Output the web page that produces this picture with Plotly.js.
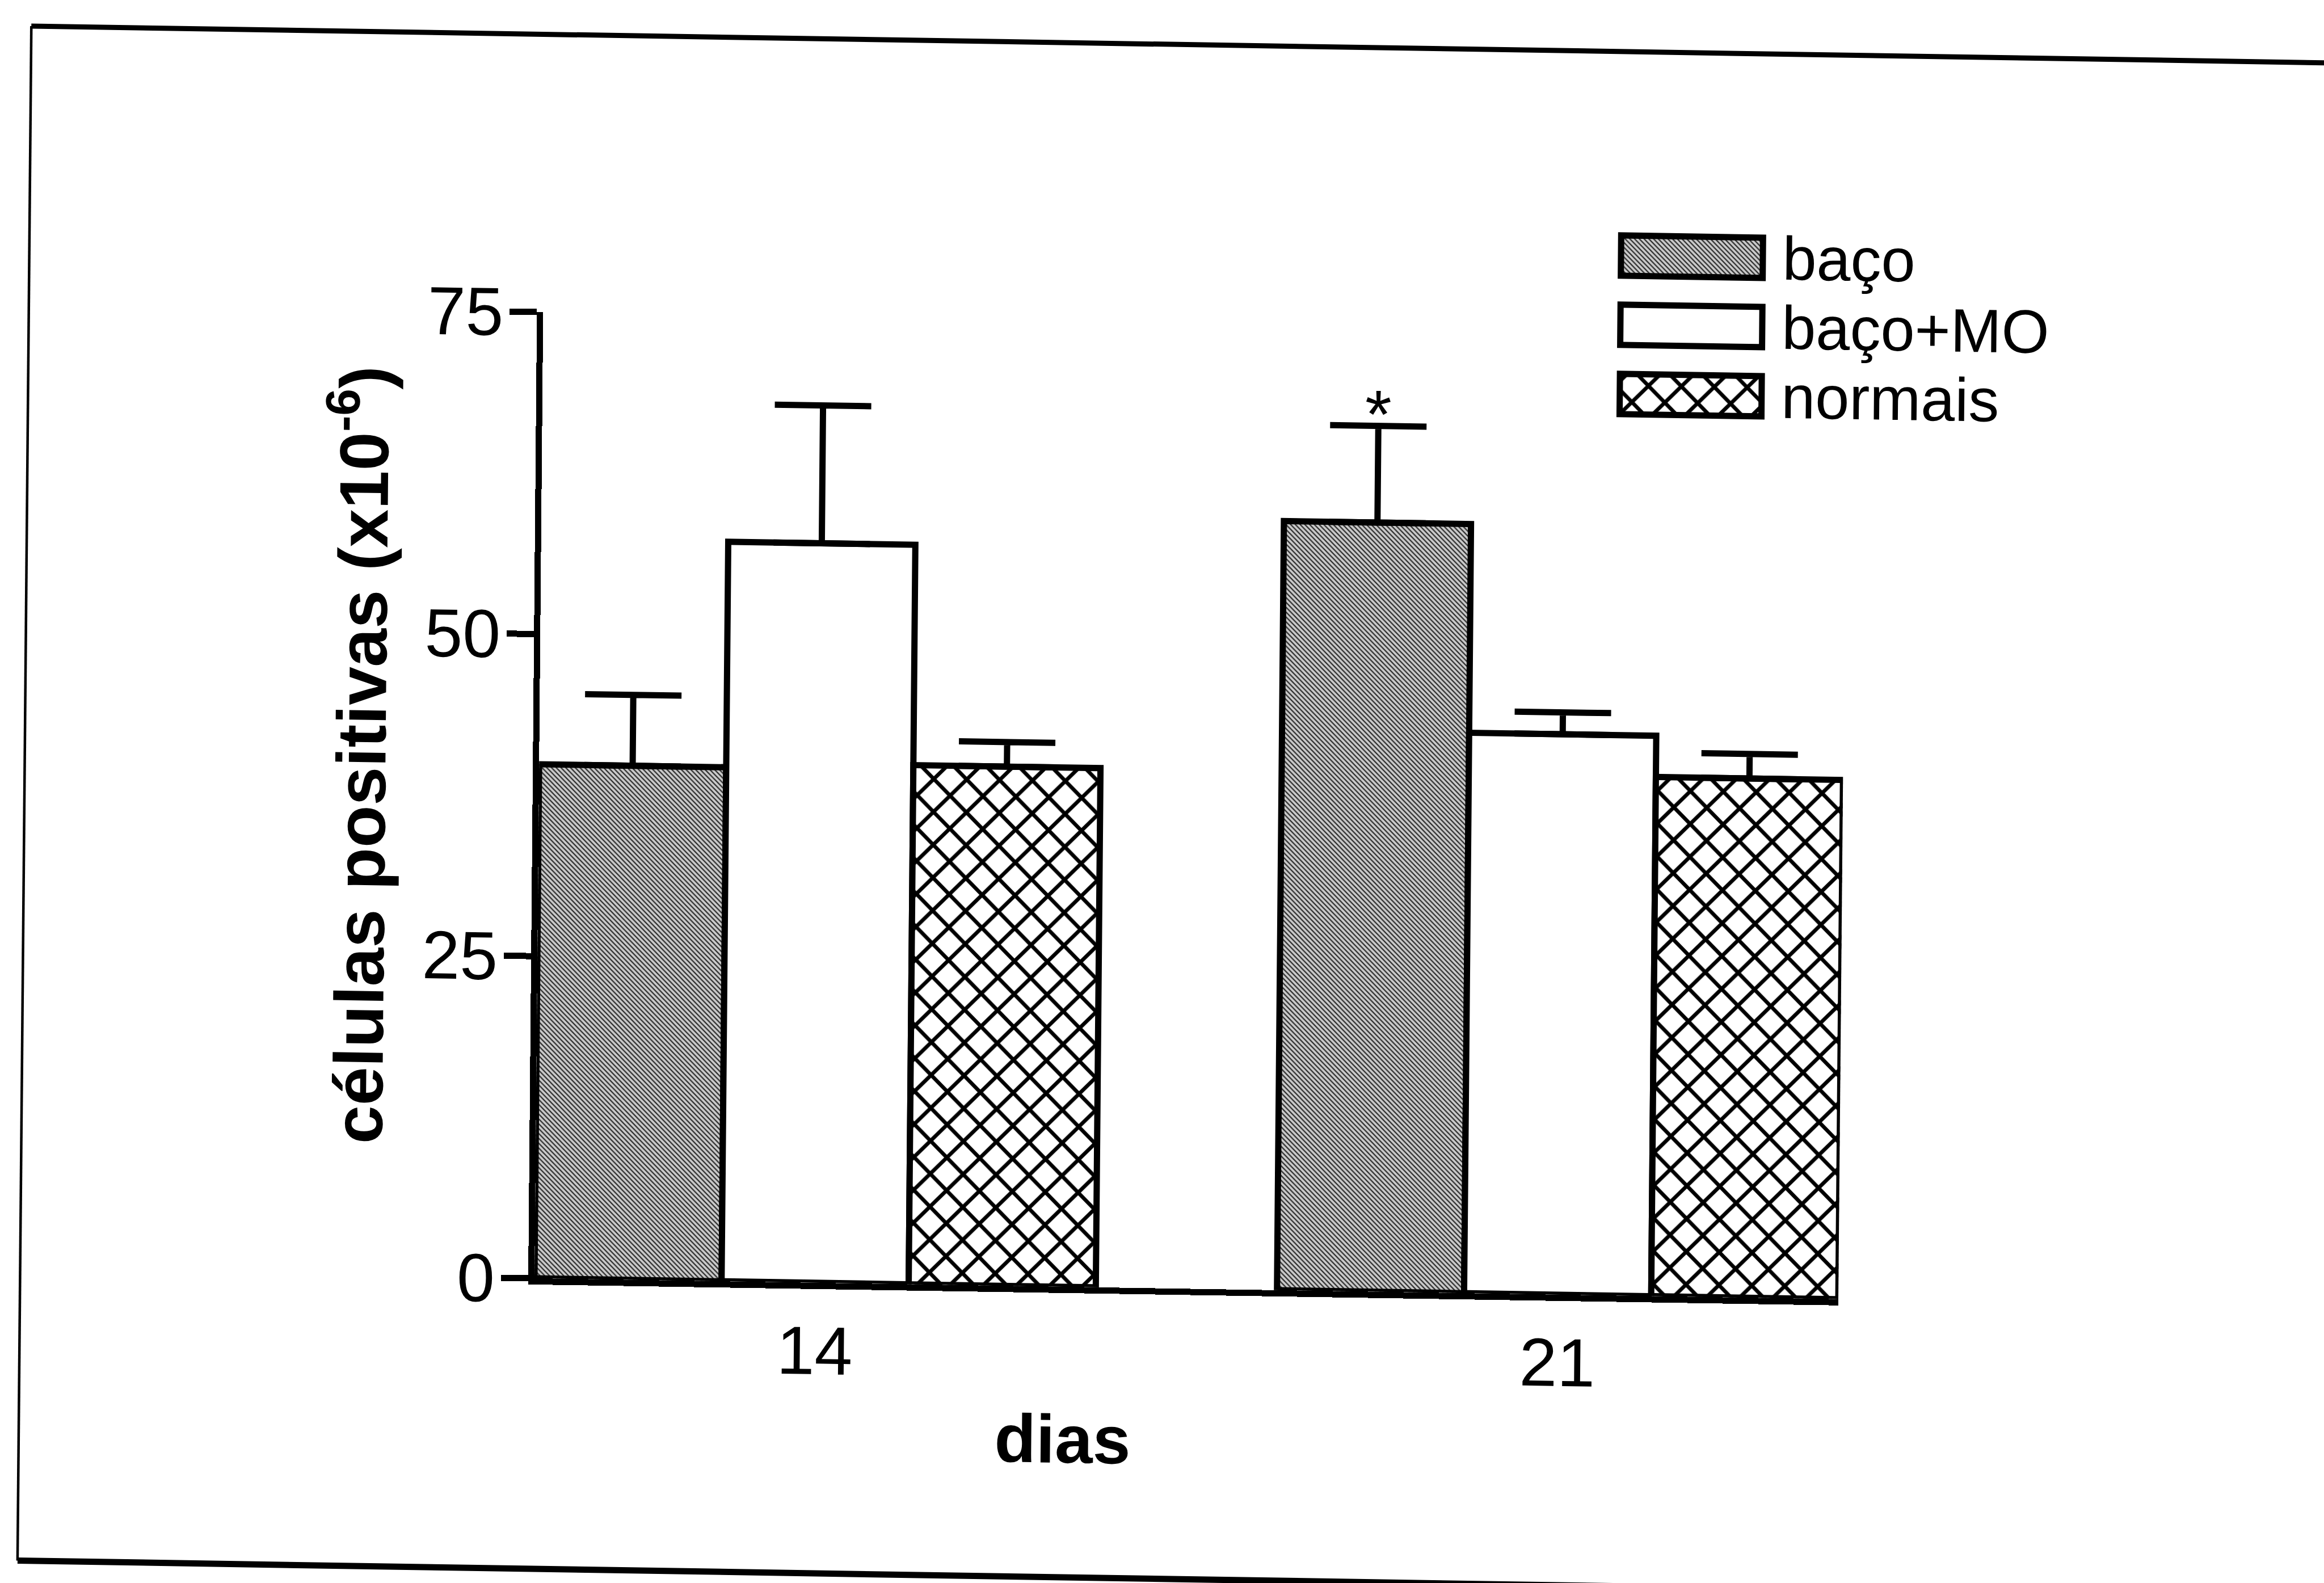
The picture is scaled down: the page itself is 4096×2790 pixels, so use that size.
<!DOCTYPE html>
<html>
<head>
<meta charset="utf-8">
<script src="https://cdn.plot.ly/plotly-3.0.1.min.js"></script>
<style>
  html, body { margin: 0; padding: 0; background: #ffffff; overflow: hidden; }
  /* the printed page sits slightly askew; the skew pivots on the axis origin */
  #chart {
    width: 4096px; height: 2790px;
    transform-origin: 942px 2253px;
    transform: matrix(1, 0.016, -0.009, 1, 0, 0);
  }
</style>
</head>
<body>
<div id="chart"></div>
<script>
// Positive cells (x10^-6) per group, mean and SEM, at 14 and 21 days
const dias = ['14', '21'];
const baco = [39.9, 59.7];
const bacoSem = [5.5, 7.5];
const bacoMO = [57.4, 43.5];
const bacoMOSem = [10.7, 1.7];
const normais = [40.3, 40.3];
const normaisSem = [1.9, 1.9];
const seriesNames = ['baço', 'baço+MO', 'normais'];
const bacoSignificant = [false, true];   // marked with *
const yTickVals = [0, 25, 50, 75];

// ---- page geometry (px) ----
const PAGE_W = 4096, PAGE_H = 2790;
const L = 942, R = 856, T = 300, B = 537;
const W = PAGE_W - L - R;
const H = PAGE_H - T - B;
const px = x => (x - L) / W;
const py = y => (PAGE_H - B - y) / H;

const FONT = 'Liberation Sans, Arial, Helvetica, sans-serif';
const BARGAP = 0.244;
const LINE_W = 11;

// fills for each series
const fills = {
  'baço':    { color: '#9c9c9c', pattern: { shape: '\\', fgcolor: '#2e2e2e', bgcolor: '#cccccc', size: 6, solidity: 0.38 } },
  'baço+MO': { color: '#ffffff', pattern: { shape: '' } },
  'normais': { color: '#ffffff', pattern: { shape: 'x', fgcolor: '#000000', bgcolor: '#ffffff', size: 41, solidity: 0.3 } }
};

const means = [baco, bacoMO, normais];
const sems = [bacoSem, bacoMOSem, normaisSem];

const traces = seriesNames.map((name, i) => ({
  type: 'bar',
  name: name,
  x: dias,
  y: means[i],
  xaxis: 'x',
  yaxis: 'y',
  marker: {
    color: fills[name].color,
    pattern: fills[name].pattern,
    line: { color: '#000000', width: LINE_W }
  },
  error_y: {
    type: 'data',
    symmetric: false,
    array: sems[i],
    arrayminus: sems[i].map(() => 0),
    color: '#000000',
    thickness: LINE_W,
    width: 85
  },
  showlegend: false,
  hoverinfo: 'skip'
}));

// key: one full-length swatch per series, labelled by the category axis
const KEY_ROW = 122;          // px per key row
const KEY_MID = 542;          // px, centre of the middle row
const KEY_W = 71 / KEY_ROW;   // swatch height as a fraction of a row
seriesNames.forEach(name => {
  traces.push({
    type: 'bar',
    orientation: 'h',
    name: name,
    x: [1],
    y: [name],
    xaxis: 'x2',
    yaxis: 'y2',
    width: KEY_W,
    offset: -KEY_W / 2,
    marker: {
      color: fills[name].color,
      pattern: fills[name].pattern,
      line: { color: '#000000', width: LINE_W }
    },
    showlegend: false,
    hoverinfo: 'skip'
  });
});

// significance marks above the baço error bars
const barStep = (1 - BARGAP) / seriesNames.length;
const starNotes = [];
bacoSignificant.forEach((sig, k) => {
  if (!sig) return;
  starNotes.push({
    xref: 'x', yref: 'y',
    x: k - barStep, y: baco[k] + bacoSem[k],
    text: '*', showarrow: false,
    xanchor: 'center', yanchor: 'middle', yshift: 21,
    font: { family: FONT, size: 120, color: '#000000' }
  });
});

// frame around the figure
const frameLeft = 35.5, frameTop = 60.5, frameBottom = 2765, frameRight = 4500;
const shapes = [
  { type: 'line', xref: 'paper', yref: 'paper', x0: px(frameLeft), x1: px(frameLeft), y0: py(frameTop), y1: py(frameBottom), line: { color: '#000000', width: 4.5 } },
  { type: 'line', xref: 'paper', yref: 'paper', x0: px(frameLeft), x1: px(frameRight), y0: py(frameTop), y1: py(frameTop), line: { color: '#000000', width: 9 } },
  { type: 'line', xref: 'paper', yref: 'paper', x0: px(frameLeft), x1: px(frameRight), y0: py(frameBottom), y1: py(frameBottom), line: { color: '#000000', width: 11 } }
];

const layout = {
  width: PAGE_W,
  height: PAGE_H,
  autosize: false,
  margin: { l: L, r: R, t: T, b: B, pad: 0 },
  paper_bgcolor: '#ffffff',
  plot_bgcolor: 'rgba(0,0,0,0)',
  barmode: 'group',
  bargap: BARGAP,
  bargroupgap: 0,
  font: { family: FONT, color: '#000000' },
  xaxis: {
    domain: [0, 1],
    anchor: 'y',
    type: 'category',
    range: [-0.378, 1.378],
    showline: true, linecolor: '#000000', linewidth: LINE_W,
    ticks: '', showgrid: false, zeroline: false,
    tickfont: { family: FONT, size: 120, color: '#000000' },
    ticklabelstandoff: 6,
    fixedrange: true
  },
  yaxis: {
    domain: [0, py(550)],
    anchor: 'x',
    range: [0, 75],
    tickmode: 'array',
    tickvals: yTickVals,
    ticks: 'outside', ticklen: 48, tickwidth: LINE_W, tickcolor: '#000000',
    showline: true, linecolor: '#000000', linewidth: LINE_W,
    showgrid: false, zeroline: false,
    tickfont: { family: FONT, size: 120, color: '#000000' },
    ticklabelstandoff: -13,
    fixedrange: true
  },
  xaxis2: {
    domain: [px(2833), px(3098)],
    anchor: 'y2',
    range: [-0.03, 1.03],
    visible: false,
    fixedrange: true
  },
  yaxis2: {
    domain: [py(KEY_MID + 1.5 * KEY_ROW), py(KEY_MID - 1.5 * KEY_ROW)],
    anchor: 'x2',
    side: 'right',
    type: 'category',
    categoryarray: seriesNames,
    tickmode: 'array',
    tickvals: seriesNames,
    ticktext: seriesNames,
    range: [2.5, -0.5],
    showline: false, ticks: '', showgrid: false, zeroline: false,
    tickfont: { family: FONT, size: 108, color: '#000000' },
    ticklabelstandoff: 26,
    fixedrange: true
  },
  annotations: [
    {
      xref: 'paper', yref: 'paper', x: px(620), y: py(1336),
      text: 'células positivas (x10<sup>-6</sup>)',
      textangle: -90, showarrow: false,
      xanchor: 'center', yanchor: 'middle',
      font: { family: FONT, size: 122, color: '#000000', weight: 'bold' }
    },
    {
      xref: 'paper', yref: 'paper', x: px(1875), y: py(2521),
      text: 'dias', showarrow: false,
      xanchor: 'center', yanchor: 'middle',
      font: { family: FONT, size: 120, color: '#000000', weight: 'bold' }
    }
  ].concat(starNotes),
  shapes: shapes
};

Plotly.newPlot('chart', traces, layout, { displayModeBar: false, staticPlot: true });
</script>
</body>
</html>
